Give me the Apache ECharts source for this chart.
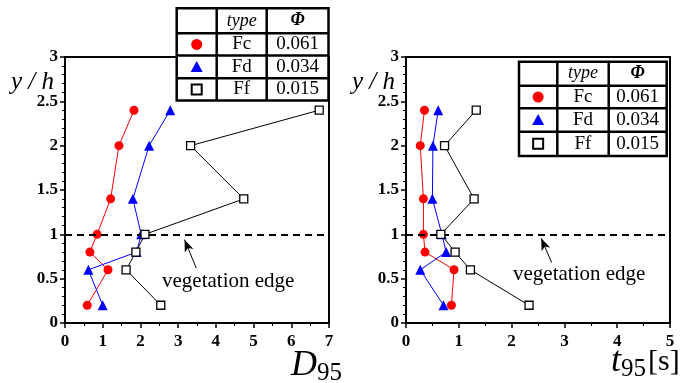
<!DOCTYPE html>
<html><head><meta charset="utf-8">
<script src="https://cdn.jsdelivr.net/npm/echarts@6/dist/echarts.min.js"></script>
<style>html,body{margin:0;padding:0;background:#fff}#c{width:699px;height:383px}</style>
</head><body><div id="c"></div>
<script>
// ---- data ----
var yLevels = [2.4, 2.0, 1.4, 1.0, 0.8, 0.6, 0.2];
var D95_Fc = [1.83, 1.43, 1.21, 0.85, 0.66, 1.14, 0.59];
var D95_Fd = [2.79, 2.23, 1.80, 2.02, 1.90, 0.62, 1.00];
var D95_Ff = [6.74, 3.33, 4.74, 2.12, 1.88, 1.62, 2.54];
var t95_Fc = [0.35, 0.27, 0.33, 0.33, 0.36, 0.91, 0.86];
var t95_Fd = [0.61, 0.51, 0.50, 0.68, 0.76, 0.27, 0.71];
var t95_Ff = [1.33, 0.73, 1.29, 0.66, 0.93, 1.22, 2.33];
var typeNames = ['Fc', 'Fd', 'Ff'];
var phiValues = ['0.061', '0.034', '0.015'];
var edgeLevel = 1;
var leftXTicks = {min: 0, max: 7, interval: 1};
var rightXTicks = {min: 0, max: 5, interval: 1};
var yTicks = {min: 0, max: 3, interval: 0.5};
var arrowLeft = [[3.48, 0.62], [3.17, 0.94]];
var arrowRight = [[2.76, 0.68], [2.56, 0.955]];

var SERIF = '"Liberation Serif","Times New Roman",serif';
function pairs(xs) { return xs.map(function (x, i) { return [x, yLevels[i]]; }); }

var styles = [
  {color: '#ff0000', symbol: 'circle', size: 9, fill: '#ff0000', bw: 0},
  {color: '#0000ff', symbol: 'triangle', size: 10, fill: '#0000ff', bw: 0},
  {color: '#000000', symbol: 'rect', size: 8, fill: '#ffffff', bw: 1.3}
];

function mkSeries(data, k, gi, extra) {
  var s = styles[k];
  var o = {
    type: 'line', xAxisIndex: gi, yAxisIndex: gi, data: pairs(data),
    symbol: s.symbol, symbolSize: s.size, showSymbol: true,
    lineStyle: {color: s.color, width: 1},
    itemStyle: {color: s.fill, borderColor: s.color, borderWidth: s.bw},
    z: 3 + k, animation: false
  };
  if (extra) o.markLine = extra;
  return o;
}

function edgeMarks(arrow) {
  return {
    silent: true, animation: false, symbol: ['none', 'none'],
    label: {show: false},
    data: [
      {yAxis: edgeLevel, lineStyle: {color: '#000', width: 2, type: [7, 5]}},
      [{coord: arrow[0], symbol: 'none', lineStyle: {color: '#000', width: 1, type: 'solid'}},
       {coord: arrow[1], symbol: 'arrow', symbolSize: [7, 12]}]
    ]
  };
}

function xAxisCfg(gi, t) {
  return {
    type: 'value', gridIndex: gi, min: t.min, max: t.max, interval: t.interval,
    axisLine: {show: true, onZero: false, lineStyle: {color: '#000', width: 2}},
    axisTick: {show: true, inside: false, length: 5, lineStyle: {color: '#000', width: 1.5}},
    minorTick: {show: true, splitNumber: 2, length: 3, lineStyle: {color: '#000', width: 1}},
    splitLine: {show: false},
    axisLabel: {color: '#000', fontFamily: SERIF, fontWeight: 'bold', fontSize: 17, margin: 10}
  };
}
function yAxisCfg(gi) {
  return {
    type: 'value', gridIndex: gi, min: yTicks.min, max: yTicks.max, interval: yTicks.interval,
    axisLine: {show: true, onZero: false, lineStyle: {color: '#000', width: 2}},
    axisTick: {show: true, inside: false, length: 5, lineStyle: {color: '#000', width: 1.5}},
    minorTick: {show: true, splitNumber: 5, length: 3, lineStyle: {color: '#000', width: 1}},
    splitLine: {show: false},
    axisLabel: {color: '#000', fontFamily: SERIF, fontWeight: 'bold', fontSize: 17, margin: 7}
  };
}

// legend table drawn as graphic
function table(cols, rows) {
  var els = [];
  var x0 = cols[0], x1 = cols[cols.length - 1], y0 = rows[0], y1 = rows[rows.length - 1];
  els.push({type: 'rect', shape: {x: x0, y: y0, width: x1 - x0, height: y1 - y0},
    style: {fill: '#fff', stroke: '#000', lineWidth: 2.5}, z: 100});
  for (var i = 1; i < cols.length - 1; i++)
    els.push({type: 'line', shape: {x1: cols[i], y1: y0, x2: cols[i], y2: y1}, style: {stroke: '#000', lineWidth: 2.5}, z: 101});
  for (var j = 1; j < rows.length - 1; j++)
    els.push({type: 'line', shape: {x1: x0, y1: rows[j], x2: x1, y2: rows[j]}, style: {stroke: '#000', lineWidth: 2.5}, z: 101});
  function cx(c) { return (cols[c] + cols[c + 1]) / 2; }
  function cy(r) { return (rows[r] + rows[r + 1]) / 2; }
  var hdr = ['type', 'Φ'];
  for (var h = 0; h < 2; h++)
    els.push({type: 'text', x: cx(h + 1), y: cy(0), z: 102,
      style: {text: hdr[h], fontFamily: SERIF, fontStyle: 'italic', fontWeight: h === 1 ? 'bold' : 'normal', fontSize: 18, fill: '#000', align: 'center', verticalAlign: 'middle'}});
  for (var r = 0; r < 3; r++) {
    var mx = cx(0), my = cy(r + 1);
    if (r === 0) els.push({type: 'circle', shape: {cx: mx, cy: my, r: 5.5}, style: {fill: '#ff0000'}, z: 102});
    if (r === 1) els.push({type: 'polygon', shape: {points: [[mx, my - 6], [mx - 6, my + 5], [mx + 6, my + 5]]}, style: {fill: '#0000ff'}, z: 102});
    if (r === 2) els.push({type: 'rect', shape: {x: mx - 5, y: my - 5, width: 10, height: 10}, style: {fill: '#fff', stroke: '#000', lineWidth: 2}, z: 102});
    els.push({type: 'text', x: cx(1), y: my, z: 102,
      style: {text: typeNames[r], fontFamily: SERIF, fontSize: 19, fill: '#000', align: 'center', verticalAlign: 'middle'}});
    els.push({type: 'text', x: cx(2), y: my, z: 102,
      style: {text: phiValues[r], fontFamily: SERIF, fontSize: 19, fill: '#000', align: 'center', verticalAlign: 'middle'}});
  }
  return els;
}

function yName(x) {
  return {type: 'text', x: x, y: 82, z: 50,
    style: {text: 'y / h', fontFamily: SERIF, fontStyle: 'italic', fontSize: 25, fill: '#000', verticalAlign: 'middle'}};
}

var graphics = []
  .concat(table([176.7, 216.7, 266.7, 328.5], [8.3, 33.3, 55.5, 78.3, 100.5]))
  .concat(table([519, 557.3, 608.7, 666.7], [61.7, 85.7, 108.3, 131.7, 156]))
  .concat([yName(11), yName(352),
    {type: 'text', x: 162, y: 281, z: 50, style: {text: 'vegetation edge', fontFamily: SERIF, fontSize: 21, fill: '#000', verticalAlign: 'middle'}},
    {type: 'text', x: 513, y: 274, z: 50, style: {text: 'vegetation edge', fontFamily: SERIF, fontSize: 21, fill: '#000', verticalAlign: 'middle'}},
    {type: 'text', x: 291, y: 366, z: 50, style: {
      text: '{a|D}{b|95}', verticalAlign: 'middle',
      rich: {a: {fontFamily: SERIF, fontStyle: 'italic', fontSize: 36, fill: '#000'},
             b: {fontFamily: SERIF, fontSize: 25, fill: '#000', padding: [14, 0, 0, 0]}}}},
    {type: 'text', x: 611, y: 362, z: 50, style: {
      text: '{a|t}{b|95}{c|[s]}', verticalAlign: 'middle',
      rich: {a: {fontFamily: SERIF, fontStyle: 'italic', fontSize: 36, fill: '#000'},
             b: {fontFamily: SERIF, fontSize: 25, fill: '#000', padding: [14, 0, 0, 0]},
             c: {fontFamily: SERIF, fontSize: 30, fill: '#000', padding: [0, 0, 0, 2]}}}}
  ]);

var chart = echarts.init(document.getElementById('c'), null, {renderer: 'canvas'});
chart.setOption({
  animation: false,
  backgroundColor: '#fff',
  grid: [
    {left: 65, top: 57, width: 264, height: 266, show: true, borderColor: '#000', borderWidth: 2, backgroundColor: 'transparent'},
    {left: 406, top: 57, width: 264, height: 266, show: true, borderColor: '#000', borderWidth: 2, backgroundColor: 'transparent'}
  ],
  xAxis: [xAxisCfg(0, leftXTicks), xAxisCfg(1, rightXTicks)],
  yAxis: [yAxisCfg(0), yAxisCfg(1)],
  series: [
    mkSeries(D95_Fc, 0, 0, edgeMarks(arrowLeft)),
    mkSeries(D95_Fd, 1, 0),
    mkSeries(D95_Ff, 2, 0),
    mkSeries(t95_Fc, 0, 1, edgeMarks(arrowRight)),
    mkSeries(t95_Fd, 1, 1),
    mkSeries(t95_Ff, 2, 1)
  ],
  graphic: {elements: graphics}
});
</script></body></html>
